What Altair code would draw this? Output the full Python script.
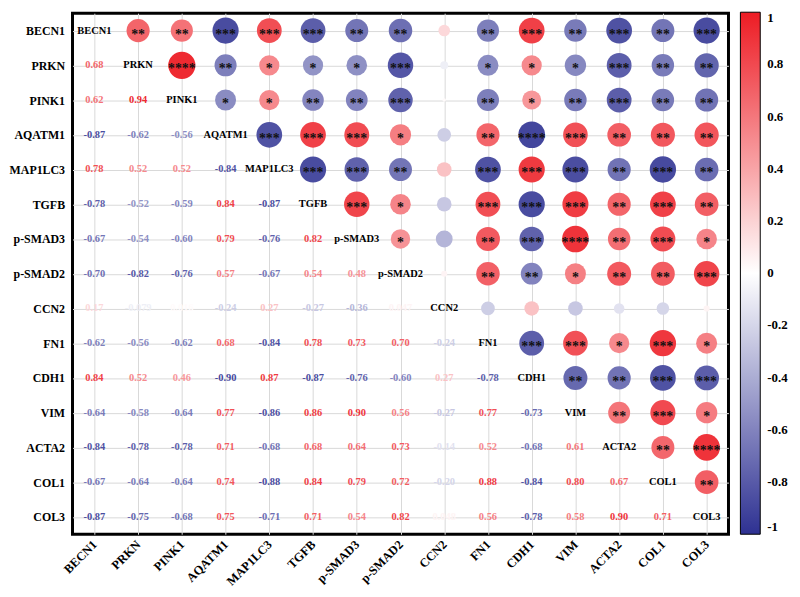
import altair as alt
import pandas as pd

genes = ["BECN1", "PRKN", "PINK1", "AQATM1", "MAP1LC3", "TGFB", "p-SMAD3", "p-SMAD2",
         "CCN2", "FN1", "CDH1", "VIM", "ACTA2", "COL1", "COL3"]

# lower triangle correlations: row i, columns 0..i-1
lower = [
    [],
    [0.68],
    [0.62, 0.94],
    [-0.87, -0.62, -0.56],
    [0.78, 0.52, 0.52, -0.84],
    [-0.78, -0.52, -0.59, 0.84, -0.87],
    [-0.67, -0.54, -0.60, 0.79, -0.76, 0.82],
    [-0.70, -0.82, -0.76, 0.57, -0.67, 0.54, 0.48],
    [0.17, -0.079, 0.016, -0.24, 0.27, -0.27, -0.36, 0.047],
    [-0.62, -0.56, -0.62, 0.68, -0.84, 0.78, 0.73, 0.70, -0.24],
    [0.84, 0.52, 0.46, -0.90, 0.87, -0.87, -0.76, -0.60, 0.27, -0.78],
    [-0.64, -0.58, -0.64, 0.77, -0.86, 0.86, 0.90, 0.56, -0.27, 0.77, -0.73],
    [-0.84, -0.78, -0.78, 0.71, -0.68, 0.68, 0.64, 0.73, -0.14, 0.52, -0.68, 0.61],
    [-0.67, -0.64, -0.64, 0.74, -0.88, 0.84, 0.79, 0.72, -0.20, 0.88, -0.84, 0.80, 0.67],
    [-0.87, -0.75, -0.68, 0.75, -0.71, 0.71, 0.54, 0.82, 0.048, 0.56, -0.78, 0.58, 0.90, 0.71],
]

# significance stars in upper triangle: row i, columns i+1..14
stars = [
    [2, 2, 3, 3, 3, 2, 2, 0, 2, 3, 2, 3, 2, 3],
    [4, 2, 1, 1, 1, 3, 0, 1, 1, 1, 3, 2, 2],
    [1, 1, 2, 2, 3, 0, 2, 1, 2, 3, 2, 2],
    [3, 3, 3, 1, 0, 2, 4, 3, 2, 2, 2],
    [3, 3, 2, 0, 3, 3, 3, 2, 3, 2],
    [3, 1, 0, 3, 3, 3, 2, 3, 2],
    [1, 0, 2, 3, 4, 2, 3, 1],
    [0, 2, 2, 1, 2, 2, 3],
    [0, 0, 0, 0, 0, 0],
    [3, 3, 1, 3, 1],
    [2, 2, 3, 3],
    [2, 3, 1],
    [2, 4],
    [2],
    [],
]

legend_values = [1, 0.8, 0.6, 0.4, 0.2, 0, -0.2, -0.4, -0.6, -0.8, -1]

n = len(genes)
def corr(i, j):
    if i == j:
        return 1.0
    if i > j:
        return lower[i][j]
    return lower[j][i]

def fmt(v):
    if abs(v) < 0.1:
        return f"{v:.3f}"
    return f"{v:.2f}"

rows = []
for i in range(n):
    for j in range(n):
        v = corr(i, j)
        if i == j:
            kind = "diag"
            star = ""
        elif j > i:
            kind = "upper"
            star = "*" * stars[i][j - i - 1]
        else:
            kind = "lower"
            star = ""
        rows.append({"row": genes[i], "col": genes[j], "r": v, "absr": abs(v),
                     "kind": kind, "stars": star, "label": fmt(v),
                     "name": genes[i]})
df = pd.DataFrame(rows)

FONT = "Liberation Serif"
color_scale = alt.Scale(domain=[-1, 0, 1], range=["#2E3192", "#FFFFFF", "#ED1C24"],
                        interpolate="rgb")

legend = alt.Legend(
    orient="none", legendX=673, legendY=-1, direction="vertical",
    gradientLength=526, gradientThickness=20, title=None,
    values=legend_values, labelExpr="'' + datum.value",
    labelFont=FONT, labelFontWeight="bold", labelFontSize=13, labelColor="black",
    gradientStrokeColor="black", gradientStrokeWidth=1, labelOffset=7,
)

base = alt.Chart(df).encode(
    x=alt.X("col:N", sort=genes, title=None,
            axis=alt.Axis(orient="bottom", labelAngle=-45, labelAlign="right",
                          labelBaseline="middle", labelPadding=8, labelFontSize=12.5)),
    y=alt.Y("row:N", sort=genes, title=None,
            axis=alt.Axis(orient="left", labelPadding=8, labelFontSize=12)),
)

circles = base.transform_filter(alt.datum.kind == "upper").mark_circle(opacity=1).encode(
    size=alt.Size("absr:Q", scale=alt.Scale(domain=[0, 1], range=[0, 800]), legend=None),
    color=alt.Color("r:Q", scale=color_scale, legend=legend),
)

star_text = base.transform_filter(alt.datum.kind == "upper").mark_text(
    font=FONT, fontWeight="bold", fontSize=14, color="#111111", baseline="middle", dy=4
).encode(text="stars:N")

lower_text = base.transform_filter(alt.datum.kind == "lower").mark_text(
    font=FONT, fontWeight="bold", fontSize=10.5, baseline="middle"
).encode(text="label:N", color=alt.Color("r:Q", scale=color_scale, legend=legend))

diag_text = base.transform_filter(alt.datum.kind == "diag").mark_text(
    font=FONT, fontWeight="bold", fontSize=10.5, baseline="middle", color="black"
).encode(text="name:N")

chart = alt.layer(circles, star_text, lower_text, diag_text).properties(
    width=661, height=525,
    autosize=alt.AutoSizeParams(type="none"),
    padding={"left": 65, "top": 3, "right": 64, "bottom": 60},
).configure_view(
    stroke="black", strokeWidth=3
).configure_axis(
    labelFont=FONT, labelFontWeight="bold", labelColor="black",
    ticks=False, domain=False, grid=True, gridColor="#d9d9d9", gridWidth=1,
    bandPosition=0,
)

chart.save("out.html", embed_options={"renderer": "svg", "actions": False})
